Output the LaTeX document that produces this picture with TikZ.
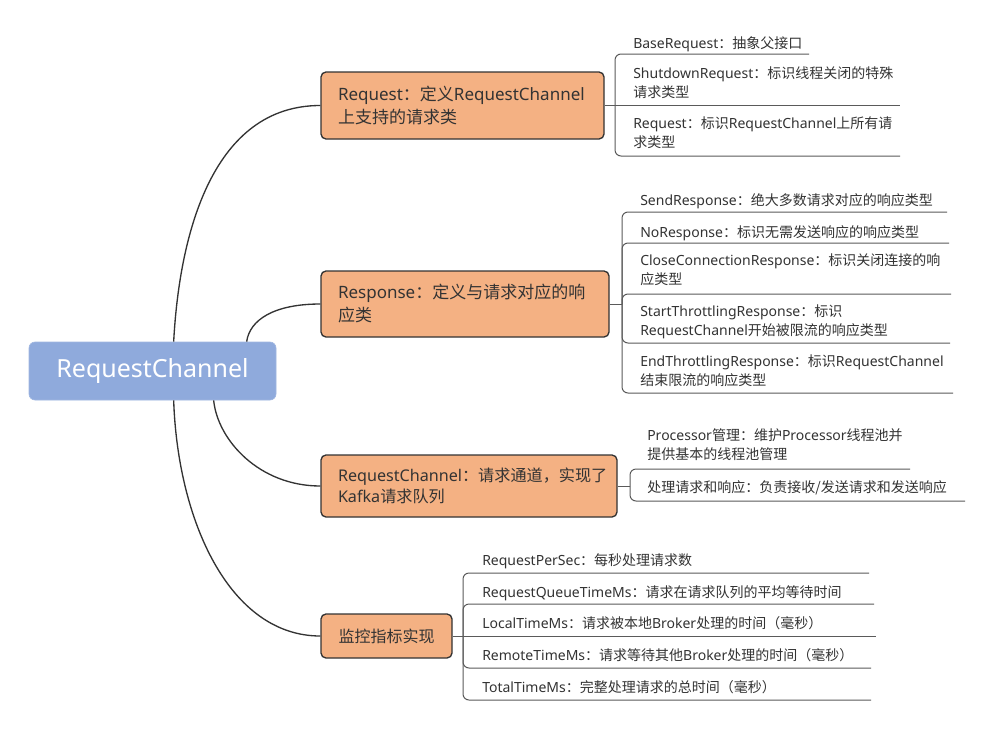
\documentclass[tikz,border=0pt]{standalone}
\usepackage{fontspec}
\setmainfont{Noto Sans}
\newfontfamily\zhfont{Noto Sans CJK SC}
\newcommand\zh[1]{{\zhfont #1}}
\usetikzlibrary{calc}
\definecolor{orangefill}{HTML}{F4B183}
\definecolor{rootfill}{HTML}{8FAADC}
\definecolor{linedark}{HTML}{333333}
\definecolor{linesub}{HTML}{5A5A5A}
\definecolor{txt}{HTML}{333333}
\begin{document}
\begin{tikzpicture}[x=0.75pt,y=-0.75pt,
  rootbox/.style={rounded corners=4.5pt, fill=rootfill, draw=rootfill!85!white, line width=0.5pt, text=white,
    font=\fontsize{18.75}{22}\selectfont, minimum width=185.25pt, minimum height=43.5pt, inner sep=0pt},
  topicbox/.style={rounded corners=3.75pt, fill=orangefill, draw=linedark, line width=1pt, text=txt,
    font={\fontsize{12.75}{17.25}\selectfont\hyphenpenalty=10000\exhyphenpenalty=10000}, align=left,
    inner xsep=12.75pt, inner ysep=0pt},
  leaf/.style={anchor=north west, inner sep=0pt, align=left, text=txt,
    font=\fontsize{10.5}{14.25}\selectfont, execute at begin node=\strut},
  branch/.style={draw=linedark, line width=1pt},
  sub/.style={draw=linesub, line width=0.75pt, rounded corners=4.5pt},
]
\fill[white] (0,0) rectangle (984,746);
\useasboundingbox (0,0) rectangle (984,746);

% central topic
\node[rootbox] (root) at (152.5,371) {RequestChannel};

% main topics
\node[topicbox, text width=186.75pt, minimum height=50.25pt] (p1) at (462.5,105.5)
  {Request\zh{：定义}RequestChannel\\\zh{上支持的请求类}};
\node[topicbox, text width=190.5pt, minimum height=49.5pt] (p2) at (465,304)
  {Response\zh{：定义与请求对应的响}\\\zh{应类}};
\node[topicbox, font={\fontsize{12.1}{15.5}\selectfont\hyphenpenalty=10000\exhyphenpenalty=10000}, text width=196.5pt, minimum height=46.5pt] (p3) at (469,486)
  {RequestChannel\zh{：请求通道，实现了}\\Kafka\zh{请求队列}};
\node[topicbox, font=\fontsize{12}{14}\selectfont, align=center, minimum width=98.25pt, minimum height=33pt] (p4) at (386.5,636)
  {\zh{监控指标实现}};

% branches
\draw[branch] ($(root.north west)+(145,0)$) .. controls +(6,-112) and +(-106,0) .. (p1.west);
\draw[branch] ($(root.north west)+(218,0)$) .. controls +(3,-22) and +(-46,0) .. (p2.west);
\draw[branch] ($(root.south west)+(185,0)$) .. controls +(4,40) and +(-61,0) .. (p3.west);
\draw[branch] ($(root.south west)+(145,0)$) .. controls +(4,120) and +(-91,0) .. (p4.west);

% group 1
\node[leaf] (c11) at (633,34.7) {BaseRequest\zh{：抽象父接口}};
\node[leaf] (c12) at (633,66.7) {ShutdownRequest\zh{：标识线程关闭的特殊}\\\zh{请求类型}};
\node[leaf] (c13) at (633,116.7) {Request\zh{：标识}RequestChannel\zh{上所有请}\\\zh{求类型}};
\coordinate (j1) at (615,105.5);
\coordinate (u11) at (809,54);
\coordinate (u12) at (900,105.5);
\coordinate (u13) at (900,156);
\draw[sub] (p1.east) -- (j1);
\draw[sub] (j1) |- (u11);
\draw[sub] (j1) -- (u12);
\draw[sub] (j1) |- (u13);

% group 2
\node[leaf] (c21) at (640,191.7) {SendResponse\zh{：绝大多数请求对应的响应类型}};
\node[leaf] (c22) at (640,223.7) {NoResponse\zh{：标识无需发送响应的响应类型}};
\node[leaf] (c23) at (640,253.7) {CloseConnectionResponse\zh{：标识关闭连接的响}\\\zh{应类型}};
\node[leaf] (c24) at (640,304.7) {StartThrottlingResponse\zh{：标识}\\RequestChannel\zh{开始被限流的响应类型}};
\node[leaf] (c25) at (640,354.7) {EndThrottlingResponse\zh{：标识}RequestChannel\\\zh{结束限流的响应类型}};
\coordinate (j2) at (622,304);
\coordinate (u21) at (947,212);
\coordinate (u22) at (949,243);
\coordinate (u23) at (951,294);
\coordinate (u24) at (950,343);
\coordinate (u25) at (953,393);
\draw[sub] (p2.east) -- (j2);
\foreach \u in {u21,u22,u23,u24,u25} {\draw[sub] (j2) |- (\u);}

% group 3
\node[leaf] (c31) at (647,428.7) {Processor\zh{管理：维护}Processor\zh{线程池并}\\\zh{提供基本的线程池管理}};
\node[leaf] (c32) at (647,478.7) {\zh{处理请求和响应：负责接收/发送请求和发送响应}};
\coordinate (j3) at (630,486);
\coordinate (u31) at (910,469);
\coordinate (u32) at (965,501);
\draw[sub] (p3.east) -- (j3);
\foreach \u in {u31,u32} {\draw[sub] (j3) |- (\u);}

% group 4
\node[leaf] (c41) at (482,551.7) {RequestPerSec\zh{：每秒处理请求数}};
\node[leaf] (c42) at (482,583.7) {RequestQueueTimeMs\zh{：请求在请求队列的平均等待时间}};
\node[leaf] (c43) at (482,614.7) {LocalTimeMs\zh{：请求被本地}Broker\zh{处理的时间（毫秒）}};
\node[leaf] (c44) at (482,646.7) {RemoteTimeMs\zh{：请求等待其他}Broker\zh{处理的时间（毫秒）}};
\node[leaf] (c45) at (482,678.7) {TotalTimeMs\zh{：完整处理请求的总时间（毫秒）}};
\coordinate (j4) at (463,636);
\coordinate (u41) at (869,573);
\coordinate (u42) at (874,604);
\coordinate (u43) at (876,636);
\coordinate (u44) at (871,668);
\coordinate (u45) at (871,700);
\draw[sub] (p4.east) -- (j4);
\foreach \u in {u41,u42,u44,u45} {\draw[sub] (j4) |- (\u);}
\draw[sub] (j4) -- (u43);
\end{tikzpicture}
\end{document}
